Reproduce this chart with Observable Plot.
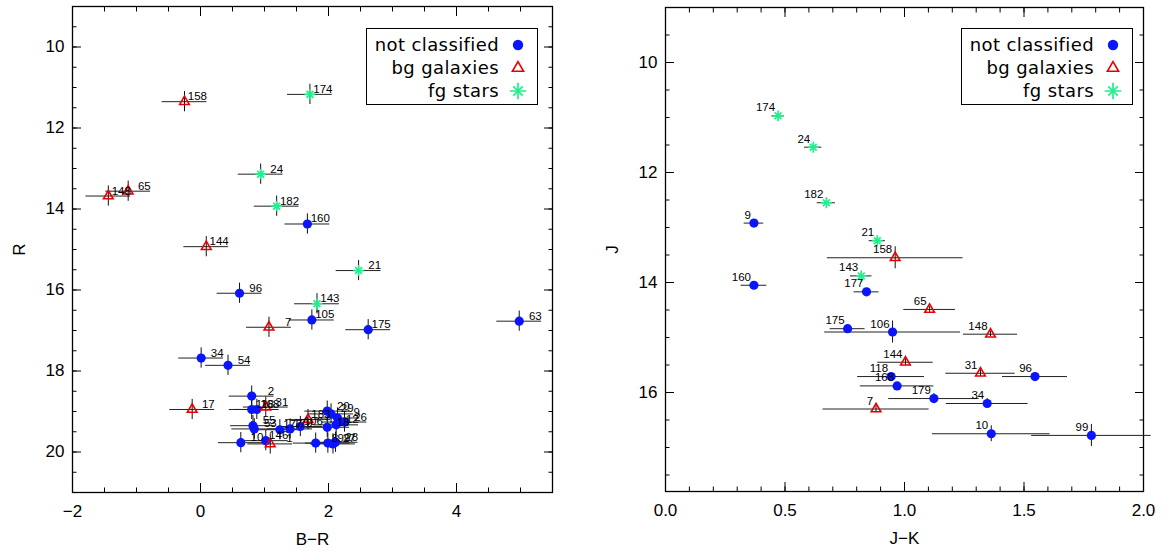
<!DOCTYPE html>
<html>
<head>
<meta charset="utf-8">
<script src="https://cdn.jsdelivr.net/npm/d3@7"></script>
<script src="https://cdn.jsdelivr.net/npm/@observablehq/plot@0.6"></script>
<style>
  html, body { margin: 0; padding: 0; background: #fff; }
  #wrap { position: relative; width: 1169px; height: 551px; overflow: hidden; font-family: "Liberation Sans", Arial, sans-serif; }
  #left { position: absolute; left: 0; top: 0; }
  #right { position: absolute; left: 600px; top: 0; }
  .legend { position: absolute; width: 170px; height: 75px; border: 1px solid #000; background: #fff; font-family: "DejaVu Sans", sans-serif; font-size: 18px; letter-spacing: 0.4px; color: #000; }
  .legend .row { position: absolute; right: 38px; white-space: nowrap; line-height: 20px; }
  .legend svg { position: absolute; overflow: visible; }
</style>
</head>
<body>
<div id="wrap">
  <div id="left"></div>
  <div id="right"></div>
</div>
<script>
// ---------- classes ----------
const classNames = ["not classified", "bg galaxies", "fg stars"];
const classColors = ["#0a14ff", "#e80000", "#1ef08c"];

// ---------- left panel: B-R vs R ----------
const leftId = ["158","174","24","65","148","182","160","144","21","96","143","105","7","175","63","34","54","17",
  "2","118","168","31","55","53","177","179","106","183","20","29","9","26","12","10","146","1","8","99","27","28","18"];
const leftBR = [-0.25,1.71,0.94,-1.13,-1.44,1.19,1.67,0.09,2.47,0.61,1.82,1.74,1.07,2.62,4.98,0.01,0.43,-0.13,
  0.80,0.80,0.88,1.02,0.82,0.84,1.24,1.40,1.56,1.68,1.98,2.04,2.14,2.25,2.12,0.63,1.02,1.09,1.80,1.99,2.07,2.11,1.98];
const leftR = [11.35,11.17,13.14,13.56,13.68,13.93,14.37,14.93,15.52,16.08,16.34,16.74,16.92,16.98,16.77,17.68,17.86,18.95,
  18.62,18.95,18.95,18.89,19.35,19.43,19.45,19.43,19.37,19.20,18.99,19.06,19.16,19.26,19.33,19.77,19.72,19.80,19.78,19.78,19.80,19.76,19.39];
const leftClass = [1,2,2,1,1,2,0,1,2,0,2,0,1,0,0,0,0,1,
  0,0,0,1,0,0,0,0,0,1,0,0,0,0,0,0,0,1,0,0,0,0,0];
const leftBRerr = leftId.map(() => 0.35);
const leftRerr = leftId.map(() => 0.25);

// ---------- right panel: J-K vs J ----------
const rightId = ["174","24","182","9","21","158","160","143","177","65","175","106","148","144","118","168","31","96","179","34","7","10","99"];
const rightJK = [0.471,0.618,0.673,0.370,0.886,0.961,0.370,0.819,0.841,1.105,0.762,0.950,1.360,1.004,0.944,0.969,1.318,1.546,1.123,1.346,0.881,1.363,1.782];
const rightJ  = [10.97,11.54,12.55,12.92,13.24,13.55,14.05,13.88,14.17,14.49,14.84,14.90,14.94,15.45,15.71,15.88,15.65,15.71,16.11,16.20,16.30,16.75,16.78];
const rightJKerr = [0.026,0.036,0.038,0.041,0.034,0.284,0.054,0.045,0.052,0.108,0.073,0.284,0.113,0.116,0.140,0.154,0.145,0.136,0.189,0.171,0.222,0.246,0.250];
const rightJerr  = [0.03,0.03,0.03,0.03,0.04,0.20,0.04,0.04,0.04,0.05,0.05,0.20,0.05,0.06,0.06,0.06,0.06,0.07,0.09,0.09,0.07,0.145,0.20];
const rightClass = [2,2,2,0,2,1,0,2,0,1,0,0,1,1,0,0,1,0,0,0,1,0,0];

// ---------- axes ----------
const leftXMajor = [-2, 0, 2, 4];
const leftYMajor = [10, 12, 14, 16, 18, 20];
const rightXMajor = [0, 0.5, 1, 1.5, 2];
const rightYMajor = [10, 12, 14, 16];
const leftXMinor = d3.range(-2, 5.51, 0.5);
const leftYMinor = d3.range(9, 21.01, 0.5);
const rightXMinor = d3.range(0, 2.001, 0.1).map(v => +v.toFixed(2));
const rightYMinor = d3.range(9, 17.81, 0.5);

function rows(ids, xs, ys, xe, ye, cls) {
  return ids.map((id, i) => ({id, x: xs[i], y: ys[i], xe: xe[i], ye: ye[i], c: cls[i]}));
}

function panel({data, xDomain, yDomain, width, marginLeft, marginRight, marginTop, marginBottom,
                xMajor, xMinor, yMajor, yMinor, xFmt, xLabel, yLabel, yLabelOffset, labelDx, labelDy, labelAnchor}) {
  const font = {fontFamily: "Liberation Sans, Arial, sans-serif", fontSize: 17};
  const marks = [
    Plot.frame({stroke: "#000", strokeWidth: 1.3}),
    // minor ticks (inward) on all sides
    Plot.axisX(xMinor, {anchor: "bottom", tickSize: -4.5, tickFormat: () => "", label: null, stroke: "#000"}),
    Plot.axisX(xMinor, {anchor: "top", tickSize: -4.5, tickFormat: () => "", label: null, stroke: "#000"}),
    Plot.axisY(yMinor, {anchor: "left", tickSize: -4.5, tickFormat: () => "", label: null, stroke: "#000"}),
    Plot.axisY(yMinor, {anchor: "right", tickSize: -4.5, tickFormat: () => "", label: null, stroke: "#000"}),
    // major ticks
    Plot.axisX(xMajor, {anchor: "bottom", tickSize: -9, tickFormat: () => "", label: null, stroke: "#000"}),
    Plot.axisX(xMajor, {anchor: "top", tickSize: -9, tickFormat: () => "", label: null, stroke: "#000"}),
    Plot.axisY(yMajor, {anchor: "left", tickSize: -9, tickFormat: () => "", label: null, stroke: "#000"}),
    Plot.axisY(yMajor, {anchor: "right", tickSize: -9, tickFormat: () => "", label: null, stroke: "#000"}),
    // tick labels
    Plot.axisX(xMajor, {anchor: "bottom", tickSize: 0, tickPadding: 12, tickFormat: xFmt, label: xLabel,
      labelAnchor: "center", labelOffset: 52, labelArrow: "none", fill: "#000", ...font}),
    Plot.axisY(yMajor, {anchor: "left", tickSize: 0, tickPadding: 8, tickFormat: d3.format("d"), label: yLabel,
      labelAnchor: "center", labelOffset: yLabelOffset, labelArrow: "none", fill: "#000", ...font}),
    // error bars
    Plot.ruleY(data, {y: "y", x1: d => d.x - d.xe, x2: d => d.x + d.xe, stroke: "#222", strokeWidth: 1}),
    Plot.ruleX(data, {x: "x", y1: d => d.y - d.ye, y2: d => d.y + d.ye, stroke: "#111", strokeWidth: 1}),
    // markers
    Plot.dot(data.filter(d => d.c === 0), {x: "x", y: "y", r: 4.6, fill: classColors[0], stroke: null}),
    Plot.dot(data.filter(d => d.c === 1), {x: "x", y: "y", r: 4.6, symbol: "triangle2", stroke: classColors[1], strokeWidth: 1.6, fill: "none"}),
    Plot.dot(data.filter(d => d.c === 2), {x: "x", y: "y", r: 3.6, symbol: "plus", stroke: classColors[2], strokeWidth: 1.7}),
    Plot.dot(data.filter(d => d.c === 2), {x: "x", y: "y", r: 3.2, symbol: "times", stroke: classColors[2], strokeWidth: 1.7}),
    // id labels
    Plot.text(data, {x: "x", y: "y", text: "id", dx: labelDx, dy: labelDy, textAnchor: labelAnchor, lineAnchor: "bottom",
      fontFamily: "Liberation Sans, Arial, sans-serif", fontSize: 11.5, fill: "#000"})
  ];
  return Plot.plot({
    width, height: 551, marginLeft, marginRight, marginTop, marginBottom,
    style: {background: "transparent", overflow: "visible"},
    x: {domain: xDomain, axis: null},
    y: {domain: yDomain, reverse: true, axis: null},
    marks
  });
}

const leftData = rows(leftId, leftBR, leftR, leftBRerr, leftRerr, leftClass);
const rightData = rows(rightId, rightJK, rightJ, rightJKerr, rightJerr, rightClass);

document.getElementById("left").append(panel({
  data: leftData, xDomain: [-2, 5.5], yDomain: [9, 21], width: 600,
  marginLeft: 72, marginRight: 48, marginTop: 6, marginBottom: 59,
  xMajor: leftXMajor, xMinor: leftXMinor, yMajor: leftYMajor, yMinor: leftYMinor,
  xFmt: d3.format("d"), xLabel: "B−R", yLabel: "R", yLabelOffset: 60,
  labelDx: 22.5, labelDy: -1.5, labelAnchor: "end"
}));
document.getElementById("right").append(panel({
  data: rightData, xDomain: [0, 2], yDomain: [9, 17.8], width: 569,
  marginLeft: 65, marginRight: 26, marginTop: 7, marginBottom: 60,
  xMajor: rightXMajor, xMinor: rightXMinor, yMajor: rightYMajor, yMinor: rightYMinor,
  xFmt: d3.format(".1f"), xLabel: "J−K", yLabel: "J", yLabelOffset: 60,
  labelDx: -3, labelDy: -4.5, labelAnchor: "end"
}));

// ---------- legends (HTML, inside each frame) ----------
function legend(left, top) {
  const box = document.createElement("div");
  box.className = "legend";
  box.style.left = left + "px";
  box.style.top = top + "px";
  const rowsY = [16, 39, 62];
  classNames.forEach((name, i) => {
    const r = document.createElement("div");
    r.className = "row";
    r.style.top = (rowsY[i] - 10) + "px";
    r.textContent = name;
    box.append(r);
    const s = d3.create("svg").attr("width", 12).attr("height", 12)
      .style("left", "145px").style("top", (rowsY[i] - 6) + "px");
    const g = s.append("g").attr("transform", "translate(6,6)");
    if (i === 0) g.append("circle").attr("r", 5.2).attr("fill", classColors[0]);
    if (i === 1) g.append("path").attr("d", d3.symbol(d3.symbolTriangle2, 90)()).attr("fill", "none").attr("stroke", classColors[1]).attr("stroke-width", 1.6);
    if (i === 2) {
      g.append("path").attr("d", d3.symbol(d3.symbolPlus, 90)()).attr("fill", "none").attr("stroke", classColors[2]).attr("stroke-width", 1.7);
      g.append("path").attr("d", d3.symbol(d3.symbolTimes, 60)()).attr("fill", "none").attr("stroke", classColors[2]).attr("stroke-width", 1.7);
    }
    box.append(s.node());
  });
  document.getElementById("wrap").append(box);
}
legend(366, 28);
legend(961, 28);
</script>
</body>
</html>
